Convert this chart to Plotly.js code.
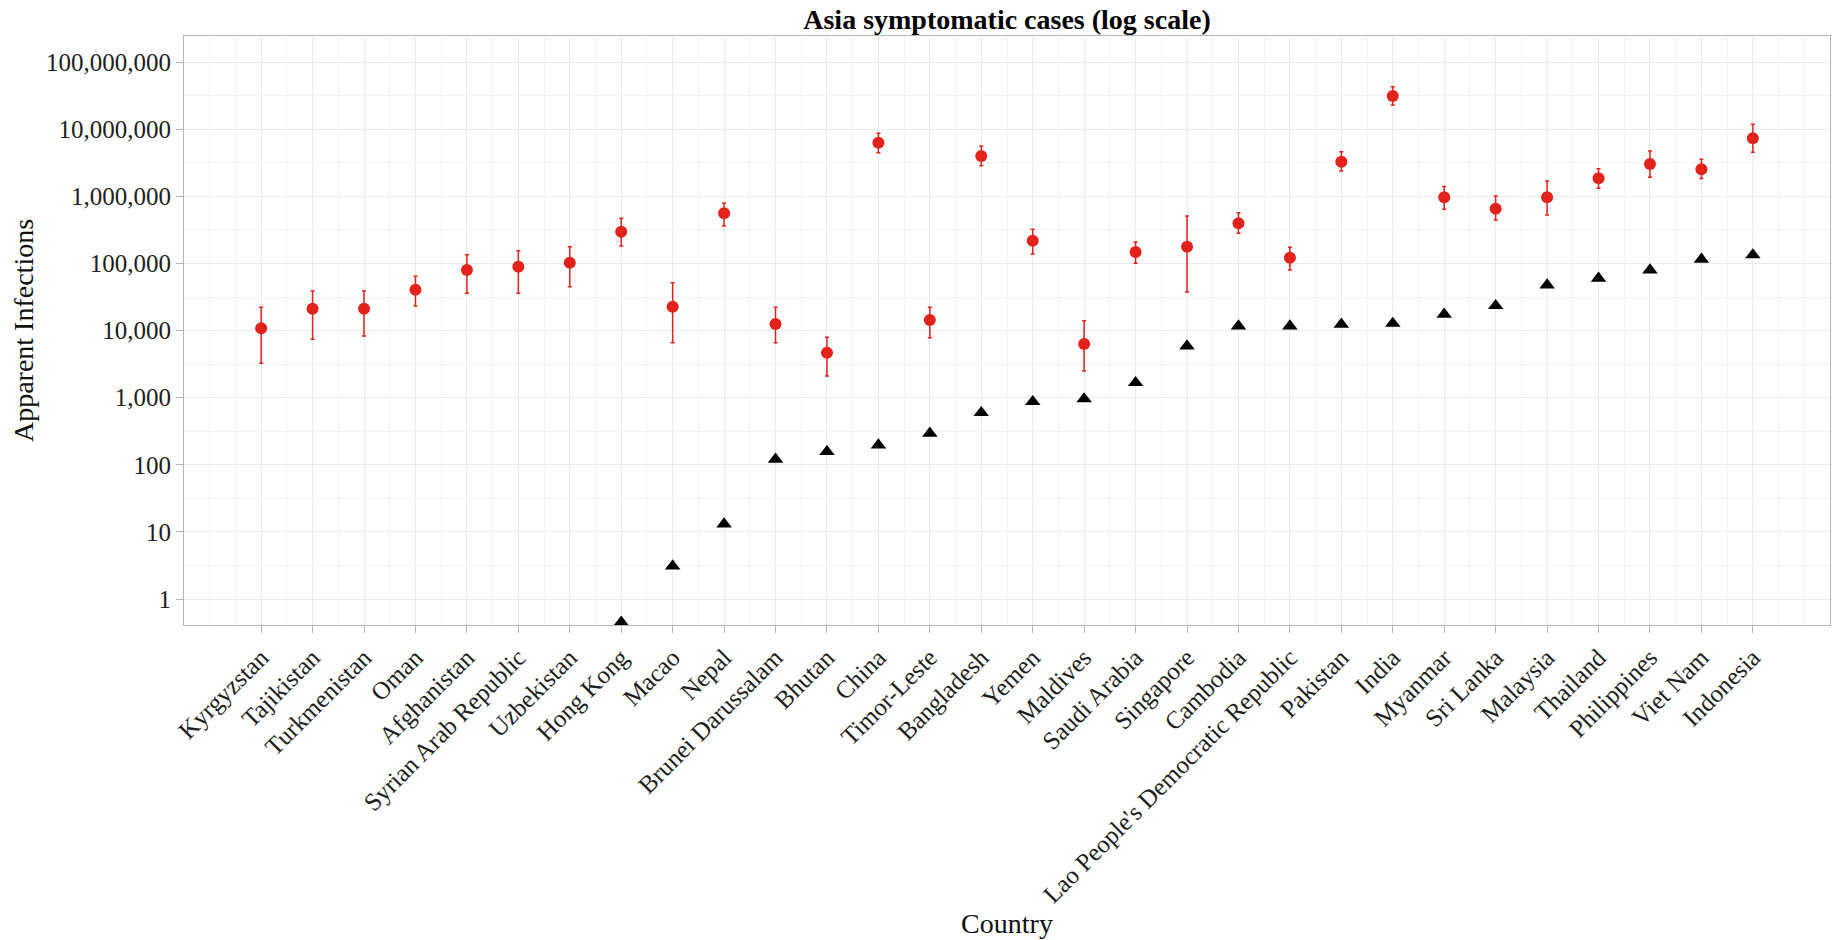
<!DOCTYPE html>
<html>
<head>
<meta charset="utf-8">
<script src="https://cdn.plot.ly/plotly-3.0.1.min.js"></script>
<style>
  html, body { margin: 0; padding: 0; background: #ffffff; }
  #chart { width: 1838px; height: 940px; }
</style>
</head>
<body>
<div id="chart"></div>
<script>
// Countries in plotting order (left to right)
const countries = [
  "Kyrgyzstan", "Tajikistan", "Turkmenistan", "Oman", "Afghanistan",
  "Syrian Arab Republic", "Uzbekistan", "Hong Kong", "Macao", "Nepal",
  "Brunei Darussalam", "Bhutan", "China", "Timor-Leste", "Bangladesh",
  "Yemen", "Maldives", "Saudi Arabia", "Singapore", "Cambodia",
  "Lao People's Democratic Republic", "Pakistan", "India", "Myanmar", "Sri Lanka",
  "Malaysia", "Thailand", "Philippines", "Viet Nam", "Indonesia"
];

// Estimated symptomatic infections (point estimate)
const estimated = [
  10800, 21200, 21200, 40700, 80000,
  89600, 102800, 298000, 22700, 560000,
  12500, 4690, 6300000, 14400, 4000000,
  219000, 6310, 148000, 178000, 397000,
  122000, 3290000, 31300000, 970000, 656000,
  970000, 1860000, 3040000, 2530000, 7350000
];

// Lower bound of the estimate interval
const estimatedLow = [
  3260, 7420, 8300, 23300, 36000,
  36000, 45100, 182000, 6600, 362000,
  6600, 2100, 4480000, 7840, 2870000,
  139000, 2500, 100700, 37600, 282000,
  80000, 2390000, 23000000, 642000, 445000,
  528000, 1320000, 1930000, 1840000, 4540000
];

// Upper bound of the estimate interval
const estimatedHigh = [
  22200, 38900, 38900, 64400, 135000,
  155000, 178000, 471000, 51700, 789000,
  22200, 7940, 8700000, 22200, 5640000,
  324000, 14000, 209000, 511000, 572000,
  174000, 4640000, 43100000, 1400000, 1010000,
  1700000, 2590000, 4750000, 3570000, 11900000
];

// Reported (observed) cases; null where nothing is plotted
const observed = [
  null, null, null, null, null,
  null, null, 0.45, 3.1, 13.1,
  121, 157, 197, 295, 598,
  873, 957, 1675, 5890, 11700,
  11700, 12400, 12800, 17500, 23500,
  47800, 60100, 80000, 115600, 134000
];

// Y axis decade labels
const yTickVals = [1, 10, 100, 1000, 10000, 100000, 1000000, 10000000, 100000000];
const yTickText = ["1", "10", "100", "1,000", "10,000", "100,000", "1,000,000", "10,000,000", "100,000,000"];

const RED = "#e3221c";
const GRID_MAJOR = "#ebebeb";
const GRID_MINOR = "#f3f3f3";
const FRAME = "#b5b5b5";
const SERIF = '"Liberation Serif", "Times New Roman", Times, serif';

const xIndex = countries.map((_, i) => i);

// half-decade gridlines between the labelled decades
const yMinorVals = [];
for (let k = 0; k < 8; k++) yMinorVals.push(Math.pow(10, k + 0.5));

const traces = [
  {
    type: "scatter",
    mode: "markers",
    name: "Estimated",
    x: xIndex,
    y: estimated,
    marker: { color: RED, size: 12, symbol: "circle" },
    error_y: {
      type: "data",
      symmetric: false,
      array: estimatedHigh.map((h, i) => h - estimated[i]),
      arrayminus: estimatedLow.map((l, i) => estimated[i] - l),
      color: RED,
      thickness: 1.5,
      width: 2
    },
    hoverinfo: "x+y"
  },
  {
    type: "scatter",
    mode: "markers",
    name: "Observed",
    x: xIndex,
    y: observed,
    marker: { color: "#000000", size: 13.5, symbol: "triangle-up" },
    hoverinfo: "x+y"
  }
];

const layout = {
  width: 1838,
  height: 940,
  margin: { l: 184, r: 8, t: 36, b: 315, pad: 0 },
  paper_bgcolor: "#ffffff",
  plot_bgcolor: "#ffffff",
  showlegend: false,
  font: { family: SERIF, color: "#1a1a1a" },
  title: {
    text: "Asia symptomatic cases (log scale)",
    font: { family: SERIF, size: 28, color: "#000000", weight: "bold" },
    x: 0.5, xref: "paper", xanchor: "center",
    y: 1 - 19 / 940, yref: "container", yanchor: "middle"
  },
  xaxis: {
    type: "linear",
    range: [-1.5, 30.5],
    tickmode: "array",
    tickvals: xIndex,
    ticktext: countries,
    tickangle: -45,
    ticks: "outside",
    ticklen: 7,
    tickwidth: 1,
    tickcolor: FRAME,
    tickfont: { family: SERIF, size: 25, color: "#1e1e1e" },
    showline: true,
    linecolor: FRAME,
    linewidth: 1,
    mirror: true,
    showgrid: true,
    gridcolor: GRID_MAJOR,
    gridwidth: 1,
    zeroline: false,
    minor: { tick0: 0, dtick: 0.5, showgrid: true, gridcolor: GRID_MINOR, gridwidth: 1, ticks: "" },
    title: { text: "Country", font: { family: SERIF, size: 28, color: "#111111" }, standoff: 6 }
  },
  yaxis: {
    type: "log",
    range: [-0.387, 8.39],
    tickmode: "array",
    tickvals: yTickVals,
    ticktext: yTickText,
    ticks: "outside",
    ticklen: 7,
    tickwidth: 1,
    tickcolor: FRAME,
    tickfont: { family: SERIF, size: 25, color: "#1e1e1e" },
    showline: true,
    linecolor: FRAME,
    linewidth: 1,
    mirror: true,
    showgrid: true,
    gridcolor: GRID_MAJOR,
    gridwidth: 1,
    zeroline: false,
    minor: { tickmode: "array", tickvals: yMinorVals, showgrid: true, gridcolor: GRID_MINOR, gridwidth: 1, ticks: "" },
    title: { text: "Apparent Infections", font: { family: SERIF, size: 28, color: "#111111" }, standoff: 4 }
  }
};

Plotly.newPlot("chart", traces, layout, { displayModeBar: false, staticPlot: true });
</script>
</body>
</html>
